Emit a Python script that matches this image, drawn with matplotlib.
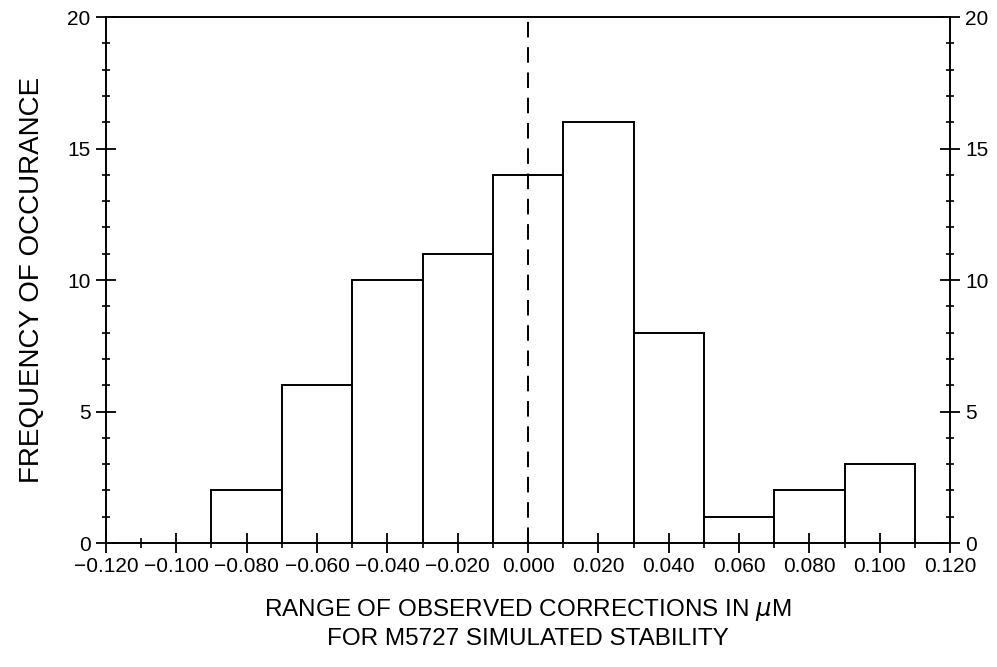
import matplotlib.pyplot as plt
import numpy as np

plt.rcParams['font.family'] = ['Liberation Sans', 'DejaVu Sans']

# histogram data
bin_edges = [-0.09, -0.07, -0.05, -0.03, -0.01, 0.01, 0.03, 0.05, 0.07, 0.09, 0.11]
counts = [2, 6, 10, 11, 14, 16, 8, 1, 2, 3]
x_ticks = [-0.12, -0.10, -0.08, -0.06, -0.04, -0.02, 0.0, 0.02, 0.04, 0.06, 0.08, 0.10, 0.12]
y_ticks = [0, 5, 10, 15, 20]

fig = plt.figure(figsize=(9.97, 6.67), dpi=100)
ax = fig.add_axes([0.1063, 0.1859, 0.8466, 0.7886])

lefts = np.array(bin_edges[:-1])
widths = np.diff(bin_edges)
ax.bar(lefts, counts, width=widths, align='edge', facecolor='white',
       edgecolor='black', linewidth=1.4)

ax.axvline(0.0, color='black', linestyle=(0, (8, 5)), linewidth=1.4)

ax.set_xlim(-0.12, 0.12)
ax.set_ylim(0, 20)

ax.set_xticks(x_ticks)
ax.set_xticklabels(['%.3f' % v if v >= 0 else '\u2212%.3f' % abs(v) for v in x_ticks])
ax.set_xticks(np.arange(-0.11, 0.12, 0.02), minor=True)
ax.set_yticks(y_ticks)
ax.set_yticks(np.arange(0, 21, 1), minor=True)

ax.tick_params(axis='x', which='major', direction='inout', length=14, width=1.3,
               labelsize=15, pad=3)
ax.tick_params(axis='x', which='minor', direction='inout', length=7, width=1.2)
ax.tick_params(axis='y', which='major', direction='inout', length=14, width=1.3,
               labelsize=15, left=True, right=True, labelleft=True, labelright=True, pad=4)
ax.tick_params(axis='y', which='minor', direction='inout', length=6, width=1.2,
               left=True, right=True)

for s in ax.spines.values():
    s.set_linewidth(1.4)

ax.set_ylabel('FREQUENCY OF OCCURANCE', fontsize=20, labelpad=16)
ax.set_xlabel('RANGE OF OBSERVED CORRECTIONS IN $\\mu$M\nFOR M5727 SIMULATED STABILITY',
              fontsize=17.5, labelpad=15, linespacing=1.3)

plt.savefig('out.png', dpi=100)
